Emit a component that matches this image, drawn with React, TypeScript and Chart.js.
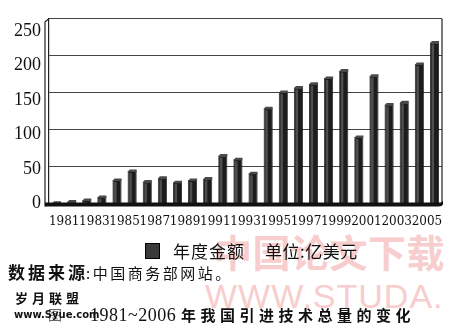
import React, { useEffect, useRef } from 'react';
import { Chart, registerables } from 'chart.js';

Chart.register(...registerables);

if (typeof document !== 'undefined') document.body.style.margin = '0';

const years = [
  '1981', '1982', '1983', '1984', '1985', '1986', '1987', '1988', '1989', '1990',
  '1991', '1992', '1993', '1994', '1995', '1996', '1997', '1998', '1999', '2000',
  '2001', '2002', '2003', '2004', '2005', '2006',
];
const amounts = [
  1, 3, 5, 9, 32, 44, 30, 35, 29, 32,
  34, 65, 60, 41, 129, 151, 157, 162, 170, 180,
  90, 173, 134, 137, 189, 218,
];
const yTickValues = [0, 50, 100, 150, 200, 250];
const legendName = '年度金额';
const unitText = '单位:亿美元';
const sourceHead = '数据来源';
const sourceBody = ':中国商务部网站。';
const titleNum = '1981~2006';
const titleText = '年我国引进技术总量的变化';

const frame3d = {
  id: 'frame3d',
  beforeDatasetsDraw(chart: any) {
    const { ctx, chartArea } = chart;
    const { left, right, top, bottom } = chartArea;
    ctx.save();
    ctx.strokeStyle = '#222';
    ctx.lineWidth = 1.2;
    ctx.beginPath();
    ctx.moveTo(left - 4, top + 3);
    ctx.lineTo(left, top);
    ctx.moveTo(left - 4, top + 3);
    ctx.lineTo(left - 4, bottom + 3);
    ctx.moveTo(right, top);
    ctx.lineTo(right, bottom);
    ctx.stroke();
    ctx.restore();
  },
  afterDatasetsDraw(chart: any) {
    const { ctx, chartArea } = chart;
    const { left, right, bottom } = chartArea;
    const meta = chart.getDatasetMeta(0);
    ctx.save();
    meta.data.forEach((bar: any) => {
      const w = bar.width;
      const x0 = bar.x - w / 2;
      const h = bar.base - bar.y;
      ctx.fillStyle = 'rgba(120,120,120,0.55)';
      ctx.fillRect(x0 + w * 0.18, bar.y + 2, w * 0.28, Math.max(0, h - 2));
      ctx.fillStyle = '#4a4a4a';
      ctx.beginPath();
      ctx.moveTo(x0, bar.y + 1);
      ctx.lineTo(x0 + 2, bar.y - 1.5);
      ctx.lineTo(x0 + w, bar.y - 1.5);
      ctx.lineTo(x0 + w, bar.y + 1);
      ctx.closePath();
      ctx.fill();
    });
    ctx.fillStyle = '#111';
    ctx.beginPath();
    ctx.moveTo(left - 4, bottom - 1);
    ctx.lineTo(right - 2, bottom - 1);
    ctx.quadraticCurveTo(right + 1, bottom - 1, right + 1, bottom - 4);
    ctx.lineTo(right + 1, bottom + 1);
    ctx.quadraticCurveTo(right, bottom + 3, right - 3, bottom + 3);
    ctx.lineTo(left - 4, bottom + 3);
    ctx.closePath();
    ctx.fill();
    ctx.restore();
  },
};

const abs = (extra: React.CSSProperties): React.CSSProperties => ({
  position: 'absolute',
  whiteSpace: 'nowrap',
  lineHeight: 1,
  ...extra,
});

export default function App() {
  const canvasRef = useRef<HTMLCanvasElement | null>(null);

  useEffect(() => {
    const canvas = canvasRef.current;
    if (!canvas) return;
    const chart = new Chart(canvas, {
      type: 'bar',
      data: {
        labels: years,
        datasets: [
          {
            label: legendName,
            data: amounts,
            backgroundColor: '#1c1c1c',
            borderColor: '#0a0a0a',
            borderWidth: 0.8,
            categoryPercentage: 1,
            barPercentage: 0.6,
          },
        ],
      },
      options: {
        responsive: false,
        animation: false,
        devicePixelRatio: 1,
        layout: { padding: { top: 15, right: 7, bottom: 85, left: 6 } },
        plugins: {
          legend: { display: false },
          tooltip: { enabled: false },
          title: { display: false },
        },
        scales: {
          x: {
            grid: { display: false, drawTicks: false },
            border: { display: false },
            ticks: {
              autoSkip: false,
              maxRotation: 0,
              minRotation: 0,
              labelOffset: 7.6,
              padding: 11,
              color: '#111',
              font: { family: 'DejaVu Serif', size: 12 },
              callback: (_v: any, i: number) => (i % 2 === 0 ? years[i] : ''),
            },
          },
          y: {
            position: 'left',
            weight: 0,
            min: 0,
            max: 250,
            ticks: { display: false, stepSize: 50 },
            grid: { color: '#444', lineWidth: 1, drawTicks: false },
            border: { display: true, color: '#222', width: 1.2 },
          },
          yl: {
            position: 'left',
            weight: 1,
            min: 0,
            max: 268,
            grid: { display: false, drawTicks: false },
            border: { display: false },
            afterBuildTicks: (scale: any) => {
              scale.ticks = yTickValues.map((v) => ({ value: v }));
            },
            ticks: {
              padding: 8,
              color: '#111',
              font: { family: 'Liberation Serif', size: 18 },
            },
          },
        },
      },
      plugins: [frame3d],
    });
    return () => chart.destroy();
  }, []);

  return (
    <div style={{ position: 'relative', width: 449, height: 325, background: '#fff', overflow: 'hidden' }}>
      <div style={abs({ left: 214, top: 232, fontSize: 38, fontWeight: 700, color: '#f7cdcd', fontFamily: 'Noto Sans CJK SC', letterSpacing: 0.5 })}>
        中国论文下载
      </div>
      <div style={abs({ left: 205, top: 279, fontSize: 34, color: '#f7cdcd', fontFamily: 'Liberation Sans', letterSpacing: 1 })}>
        WWW.STUDA.
      </div>
      <canvas ref={canvasRef} width={449} height={325} style={{ position: 'absolute', left: 0, top: 0 }} />
      <div style={abs({ left: 145, top: 243, width: 13, height: 14, background: '#3a3a3a', border: '1px solid #000' })} />
      <div style={abs({ left: 173, top: 242, fontSize: 17, fontFamily: 'Noto Sans CJK SC', color: '#111', letterSpacing: 1 })}>
        {legendName}
      </div>
      <div style={abs({ left: 265, top: 242, fontSize: 17, fontFamily: 'Noto Sans CJK SC', color: '#111', letterSpacing: 0.5 })}>
        {unitText}
      </div>
      <div style={abs({ left: 8, top: 263, fontSize: 17, fontWeight: 700, fontFamily: 'Noto Sans CJK SC', color: '#111', letterSpacing: 3 })}>
        {sourceHead}
      </div>
      <div style={abs({ left: 86, top: 265, fontSize: 15, fontFamily: 'Noto Sans CJK SC', color: '#111', letterSpacing: 2.5 })}>
        {sourceBody}
      </div>
      <div style={abs({ left: 15, top: 291, fontSize: 13, fontWeight: 700, fontFamily: 'Noto Sans CJK SC', color: '#111', letterSpacing: 4 })}>
        岁月联盟
      </div>
      <div style={abs({ left: 48, top: 307, fontSize: 14, fontFamily: 'Noto Sans CJK SC', color: '#666' })}>图</div>
      <div style={abs({ left: 14, top: 310, fontSize: 10, fontWeight: 700, fontFamily: 'DejaVu Sans', color: '#111' })}>
        www.Syue.com
      </div>
      <div style={abs({ left: 90, top: 306, fontSize: 18, fontFamily: 'Liberation Serif', color: '#111', letterSpacing: 0.5 })}>
        {titleNum}
      </div>
      <div style={abs({ left: 181, top: 307, fontSize: 15, fontWeight: 700, fontFamily: 'Noto Sans CJK SC', color: '#111', letterSpacing: 4.5 })}>
        {titleText}
      </div>
    </div>
  );
}
